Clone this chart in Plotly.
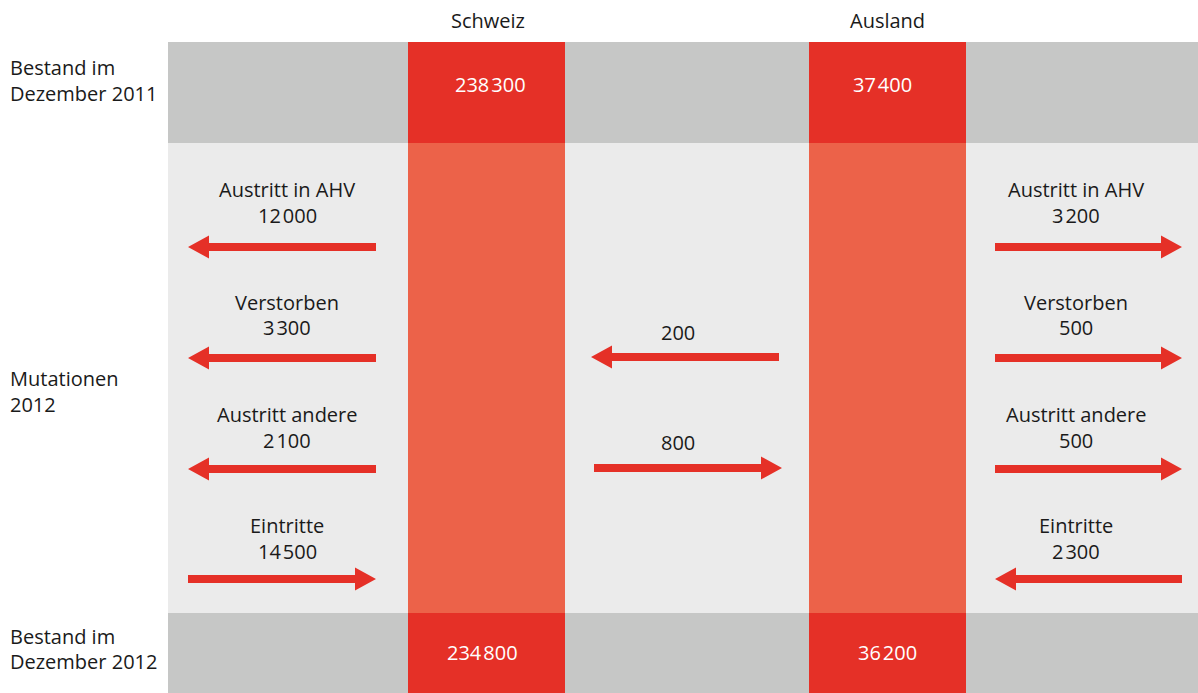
import plotly.graph_objects as go

# --- data -------------------------------------------------------------
columns = ["Schweiz", "Ausland"]
stock_2011 = [238300, 37400]
stock_2012 = [234800, 36200]

row_labels = [["Bestand im", "Dezember 2011"], ["Mutationen", "2012"], ["Bestand im", "Dezember 2012"]]

flow_names = ["Austritt in AHV", "Verstorben", "Austritt andere", "Eintritte"]
flows_schweiz = [12000, 3300, 2100, 14500]
flows_ausland = [3200, 500, 500, 2300]
# transfers between the two groups: Ausland -> Schweiz, Schweiz -> Ausland
transfer_values = [200, 800]

# --- layout constants ---------------------------------------------------
W, H = 1198, 693
FONT = "Open Sans"
SIZE = 20
WEIGHT = 400
GREY, LIGHT = "#C6C7C6", "#EBEBEB"
RED, LIGHT_RED = "#E53027", "#EC6249"
TXT = "#1a1a1a"

band_x0 = 168
top_band = (42, 143)
mid_band = (143, 613)
bot_band = (613, 693)
col_x = [(408, 565), (809, 966)]
col_center = [488, 887]
stock11_x = [490, 882]
stock12_x = [482, 887]

side_lanes = {"left": (188, 376), "mid": (592, 780), "right": (995, 1182)}
side_text_x = {"left": 287, "mid": 678, "right": 1076}
row_arrow_y = [247, 358, 469, 579]
row_name_y = [189, 302, 414, 525]
row_value_y = [215, 327, 440, 551]
mid_arrow_y = [357, 468]
mid_value_y = [332, 442]


def fmt(v):
    s = f"{v:,}"
    return s.replace(",", "\u200a")


shapes = []


def rect(x0, x1, y0, y1, color):
    shapes.append(dict(type="rect", xref="x", yref="y", x0=x0, x1=x1, y0=y0, y1=y1,
                       fillcolor=color, line=dict(width=0), layer="below"))


def arrow(x_start, x_end, y, color=RED, half=4, head_half=11.5, head_len=21):
    d = 1 if x_end > x_start else -1
    hb = x_end - d * head_len
    path = (f"M {x_start},{y-half} L {hb},{y-half} L {hb},{y-head_half} L {x_end},{y} "
            f"L {hb},{y+head_half} L {hb},{y+half} L {x_start},{y+half} Z")
    shapes.append(dict(type="path", xref="x", yref="y", path=path,
                       fillcolor=color, line=dict(width=0), layer="above"))


# background bands
rect(band_x0, W, *top_band, GREY)
rect(band_x0, W, *mid_band, LIGHT)
rect(band_x0, W, *bot_band, GREY)
for (x0, x1) in col_x:
    rect(x0, x1, *top_band, RED)
    rect(x0, x1, *mid_band, LIGHT_RED)
    rect(x0, x1, *bot_band, RED)

annotations = []


def text(x, y, s, color=TXT, size=SIZE, anchor="center"):
    annotations.append(dict(x=x, y=y, xref="x", yref="y", text=s, showarrow=False,
                            xanchor=anchor, yanchor="middle",
                            font=dict(family=FONT, size=size, color=color, weight=WEIGHT)))


# column headings and stock values
for i, name in enumerate(columns):
    text(col_center[i], 20, name)
    text(stock11_x[i], 84, fmt(stock_2011[i]), color="white")
    text(stock12_x[i], 652, fmt(stock_2012[i]), color="white")

# row labels
text(8, 67, row_labels[0][0], anchor="left")
text(8, 93, row_labels[0][1], anchor="left")
text(8, 378, row_labels[1][0], anchor="left")
text(8, 404, row_labels[1][1], anchor="left")
text(8, 636, row_labels[2][0], anchor="left")
text(8, 661, row_labels[2][1], anchor="left")

# flows on the outer sides: exits point away from the column, entries point into it
for side, values in (("left", flows_schweiz), ("right", flows_ausland)):
    x0, x1 = side_lanes[side]
    cx = side_text_x[side]
    for k, (name, val) in enumerate(zip(flow_names, values)):
        y = row_arrow_y[k]
        text(cx, row_name_y[k], name)
        text(cx, row_value_y[k], fmt(val))
        outward = k < 3
        if side == "left":
            arrow(x1, x0, y) if outward else arrow(x0, x1, y)
        else:
            arrow(x0, x1, y) if outward else arrow(x1, x0, y)

# transfers between the two columns
mx0, mx1 = side_lanes["mid"]
mcx = side_text_x["mid"]
text(mcx, mid_value_y[0], fmt(transfer_values[0]))
arrow(mx1 - 1, mx0 - 1, mid_arrow_y[0])
text(mcx, mid_value_y[1], fmt(transfer_values[1]))
arrow(mx0 + 2, mx1 + 2, mid_arrow_y[1])

fig = go.Figure()
fig.update_layout(
    width=W, height=H,
    margin=dict(l=0, r=0, t=0, b=0),
    paper_bgcolor="white", plot_bgcolor="white",
    xaxis=dict(range=[0, W], visible=False, fixedrange=True),
    yaxis=dict(range=[H, 0], visible=False, fixedrange=True),
    shapes=shapes, annotations=annotations, showlegend=False,
)
fig.write_html("out.html")
